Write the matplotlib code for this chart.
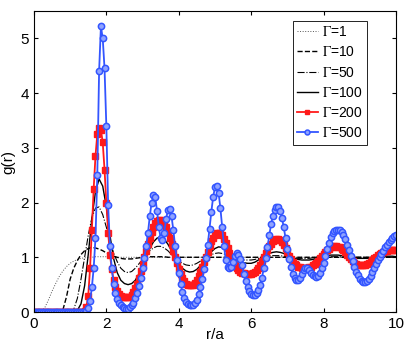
import matplotlib
matplotlib.use('Agg')
import matplotlib.pyplot as plt
import numpy as np

plt.rcParams['font.family'] = ['Liberation Sans', 'DejaVu Sans']
plt.rcParams['mathtext.fontset'] = 'stix'

# fine grid (step 0.05) for the marker curves, coarse grid (step 0.1) for the plain lines
r_fine = np.linspace(0, 10, 201)
r_coarse = np.linspace(0, 10, 101)

g500 = [
    0, 0, 0, 0, 0, 0, 0, 0, 0, 0,
    0, 0, 0, 0, 0, 0, 0, 0, 0, 0,
    0, 0, 0, 0, 0, 0, 0, 0, 0, 0.02,
    0.07, 0.2, 0.45, 0.8, 1.35, 2.5, 4.4, 5.22, 5.0, 4.45,
    3.4, 1.95, 1.2, 0.8, 0.52, 0.35, 0.24, 0.17, 0.12, 0.09,
    0.07, 0.06, 0.06, 0.09, 0.12, 0.17, 0.25, 0.35, 0.48, 0.63,
    0.8, 0.98, 1.2, 1.45, 1.75, 2.0, 2.13, 2.1, 1.85, 1.55,
    1.35, 1.32, 1.45, 1.7, 1.86, 1.88, 1.75, 1.5, 1.2, 0.95,
    0.72, 0.52, 0.37, 0.26, 0.19, 0.15, 0.13, 0.12, 0.13, 0.16,
    0.22, 0.32, 0.45, 0.6, 0.78, 0.98, 1.22, 1.52, 1.83, 2.1,
    2.28, 2.3, 2.18, 1.9, 1.55, 1.2, 0.95, 0.82, 0.8, 0.83,
    0.92, 1.02, 1.07, 1.05, 0.97, 0.85, 0.7, 0.56, 0.45, 0.38,
    0.33, 0.31, 0.31, 0.34, 0.4, 0.5, 0.63, 0.8, 0.98, 1.18,
    1.4, 1.6, 1.76, 1.87, 1.92, 1.92, 1.85, 1.72, 1.55, 1.35,
    1.15, 0.97, 0.82, 0.7, 0.62, 0.58, 0.58, 0.63, 0.7, 0.76,
    0.8, 0.8, 0.77, 0.72, 0.67, 0.65, 0.64, 0.66, 0.72, 0.8,
    0.9, 1.02, 1.15, 1.27, 1.37, 1.44, 1.48, 1.5, 1.5, 1.5,
    1.47, 1.41, 1.33, 1.23, 1.13, 1.03, 0.93, 0.83, 0.74, 0.67,
    0.61, 0.57, 0.55, 0.55, 0.56, 0.6, 0.66, 0.73, 0.8, 0.88,
    0.95, 1.0, 1.06, 1.12, 1.18, 1.23, 1.28, 1.32, 1.35, 1.38,
    1.4,
]

g200 = [
    0, 0, 0, 0, 0, 0, 0, 0, 0, 0,
    0, 0, 0, 0, 0, 0, 0, 0, 0, 0,
    0, 0, 0, 0, 0, 0, 0, 0, 0.02, 0.1,
    0.3, 0.8, 1.5, 2.25, 2.85, 3.25, 3.36, 3.33, 3.1, 2.6,
    2.0, 1.45, 1.05, 0.78, 0.58, 0.45, 0.38, 0.33, 0.3, 0.28,
    0.27, 0.27, 0.27, 0.28, 0.31, 0.36, 0.43, 0.52, 0.63, 0.75,
    0.88, 1.0, 1.12, 1.24, 1.36, 1.46, 1.55, 1.62, 1.66, 1.68,
    1.68, 1.66, 1.62, 1.55, 1.46, 1.36, 1.24, 1.12, 1.0, 0.89,
    0.79, 0.7, 0.62, 0.56, 0.52, 0.5, 0.49, 0.49, 0.5, 0.53,
    0.58, 0.65, 0.73, 0.82, 0.92, 1.01, 1.1, 1.2, 1.29, 1.36,
    1.41, 1.44, 1.45, 1.44, 1.4, 1.34, 1.26, 1.17, 1.08, 1.0,
    0.93, 0.87, 0.81, 0.77, 0.74, 0.72, 0.71, 0.7, 0.7, 0.7,
    0.7, 0.71, 0.73, 0.76, 0.8, 0.86, 0.93, 1.0, 1.07, 1.14,
    1.2, 1.25, 1.29, 1.32, 1.33, 1.33, 1.31, 1.28, 1.23, 1.17,
    1.1, 1.03, 0.97, 0.92, 0.88, 0.85, 0.83, 0.82, 0.81, 0.81,
    0.81, 0.81, 0.82, 0.83, 0.85, 0.87, 0.9, 0.94, 0.98, 1.02,
    1.06, 1.1, 1.13, 1.16, 1.18, 1.19, 1.2, 1.2, 1.19, 1.18,
    1.16, 1.13, 1.09, 1.05, 1.01, 0.97, 0.93, 0.9, 0.88, 0.86,
    0.85, 0.85, 0.85, 0.86, 0.87, 0.89, 0.92, 0.95, 0.98, 1.01,
    1.04, 1.06, 1.08, 1.1, 1.11, 1.12, 1.13, 1.13, 1.13, 1.13,
    1.13,
]

g1 = [
    0, 0, 0.01, 0.08, 0.22, 0.38, 0.52, 0.65, 0.75, 0.83,
    0.89, 0.93, 0.96, 0.98, 0.99, 1.0, 1.0, 1.01, 1.01, 1.01,
    1.01, 1.0, 1.0, 1.0, 1.0, 1.0, 1.0, 1.0, 1.0, 1.0,
    1.0, 1.0, 1.0, 1.0, 1.0, 1.0, 1.0, 1.0, 1.0, 1.0,
    1.0, 1.0, 1.0, 1.0, 1.0, 1.0, 1.0, 1.0, 1.0, 1.0,
    1.0, 1.0, 1.0, 1.0, 1.0, 1.0, 1.0, 1.0, 1.0, 1.0,
    1.0, 1.0, 1.0, 1.0, 1.0, 1.0, 1.0, 1.0, 1.0, 1.0,
    1.0, 1.0, 1.0, 1.0, 1.0, 1.0, 1.0, 1.0, 1.0, 1.0,
    1.0, 1.0, 1.0, 1.0, 1.0, 1.0, 1.0, 1.0, 1.0, 1.0,
    1.0, 1.0, 1.0, 1.0, 1.0, 1.0, 1.0, 1.0, 1.0, 1.0,
    1.0,
]

g10 = [
    0, 0, 0, 0, 0, 0, 0, 0, 0.04, 0.28,
    0.6, 0.8, 0.94, 1.05, 1.12, 1.16, 1.18, 1.17, 1.15, 1.12,
    1.08, 1.05, 1.02, 1.0, 0.98, 0.97, 0.97, 0.97, 0.98, 0.99,
    1.0, 1.0, 1.01, 1.01, 1.01, 1.01, 1.01, 1.0, 1.0, 1.0,
    1.0, 1.0, 1.0, 1.0, 1.0, 1.0, 1.0, 1.0, 1.0, 1.0,
    1.0, 1.0, 1.0, 1.0, 1.0, 1.0, 1.0, 1.0, 1.0, 1.0,
    1.0, 1.0, 1.0, 1.0, 1.0, 1.0, 1.0, 1.0, 1.0, 1.0,
    1.0, 1.0, 1.0, 1.0, 1.0, 1.0, 1.0, 1.0, 1.0, 1.0,
    1.0, 1.0, 1.0, 1.0, 1.0, 1.0, 1.0, 1.0, 1.0, 1.0,
    1.0, 1.0, 1.0, 1.0, 1.0, 1.0, 1.0, 1.0, 1.0, 1.0,
    1.0,
]

g50 = [
    0, 0, 0, 0, 0, 0, 0, 0, 0, 0,
    0, 0.05, 0.25, 0.6, 1.0, 1.4, 1.72, 1.9, 1.92, 1.78,
    1.55, 1.3, 1.08, 0.92, 0.8, 0.74, 0.72, 0.74, 0.8, 0.88,
    0.96, 1.05, 1.12, 1.17, 1.2, 1.2, 1.17, 1.12, 1.05, 0.99,
    0.93, 0.89, 0.86, 0.85, 0.86, 0.89, 0.93, 0.98, 1.02, 1.05,
    1.07, 1.08, 1.07, 1.05, 1.02, 0.99, 0.97, 0.96, 0.95, 0.95,
    0.95, 0.96, 0.98, 1.0, 1.02, 1.03, 1.03, 1.03, 1.03, 1.02,
    1.01, 1.0, 0.99, 0.98, 0.98, 0.98, 0.98, 0.99, 1.0, 1.0,
    1.01, 1.01, 1.01, 1.01, 1.01, 1.01, 1.01, 1.0, 1.0, 1.0,
    1.0, 1.0, 1.0, 1.0, 1.0, 1.0, 1.0, 1.0, 1.0, 1.0,
    1.0,
]

g100 = [
    0, 0, 0, 0, 0, 0, 0, 0, 0, 0,
    0, 0, 0.03, 0.15, 0.48, 1.05, 1.7, 2.2, 2.43, 2.3,
    1.92, 1.4, 0.98, 0.72, 0.58, 0.52, 0.5, 0.52, 0.58, 0.7,
    0.86, 1.02, 1.16, 1.28, 1.35, 1.37, 1.33, 1.24, 1.12, 1.0,
    0.89, 0.8, 0.75, 0.73, 0.74, 0.78, 0.85, 0.94, 1.03, 1.1,
    1.16, 1.19, 1.18, 1.14, 1.08, 1.02, 0.96, 0.92, 0.9, 0.89,
    0.89, 0.91, 0.95, 0.99, 1.03, 1.07, 1.09, 1.1, 1.09, 1.07,
    1.04, 1.01, 0.98, 0.96, 0.95, 0.95, 0.95, 0.96, 0.98, 1.0,
    1.02, 1.03, 1.04, 1.04, 1.04, 1.03, 1.02, 1.0, 0.99, 0.98,
    0.98, 0.98, 0.98, 0.99, 1.0, 1.01, 1.01, 1.02, 1.02, 1.02,
    1.01,
]

fig = plt.figure(figsize=(4.19, 3.44), dpi=100)
ax = fig.add_axes([0.081, 0.093, 0.864, 0.875])

ax.plot(r_coarse, g1, ':', color='#555555', lw=0.7, label=r'$\Gamma$=1')
ax.plot(r_coarse, g10, '--', color='black', lw=1.0, label=r'$\Gamma$=10')
ax.plot(r_coarse, g50, '-.', color='black', lw=0.8, label=r'$\Gamma$=50')
ax.plot(r_coarse, g100, '-', color='black', lw=1.0, label=r'$\Gamma$=100')
ax.plot(r_fine, g200, '-s', color='#ff1a1a', lw=1.3, ms=4.3, mec='#ff1a1a',
        mfc='#ff1a1a', label=r'$\Gamma$=200')
ax.plot(r_fine, g500, '-o', color='#3355ff', lw=1.3, ms=4.5, mec='#3355ff',
        mfc='#8fa3ff', mew=1.1, label=r'$\Gamma$=500')

ax.set_xlim(0, 10)
ax.set_ylim(0, 5.5)
ax.set_xticks([0, 2, 4, 6, 8, 10])
ax.set_yticks([0, 1, 2, 3, 4, 5])
ax.tick_params(direction='in', top=True, right=True, labelsize=11, length=3)
ax.set_xlabel('r/a', fontsize=11)
ax.xaxis.set_label_coords(0.5, -0.052)
ax.set_ylabel('g(r)', fontsize=11, labelpad=4)

leg = ax.legend(loc='upper right', bbox_to_anchor=(0.92, 0.967), fontsize=10,
                fancybox=False, edgecolor='black', framealpha=1, numpoints=1,
                handlelength=1.5, handletextpad=0.3, borderpad=0.3,
                labelspacing=0.45, borderaxespad=0)
leg.get_frame().set_linewidth(0.6)
for h in leg.legend_handles[4:]:
    h.set_markersize(3.5)

fig.savefig('out.png', dpi=100)
